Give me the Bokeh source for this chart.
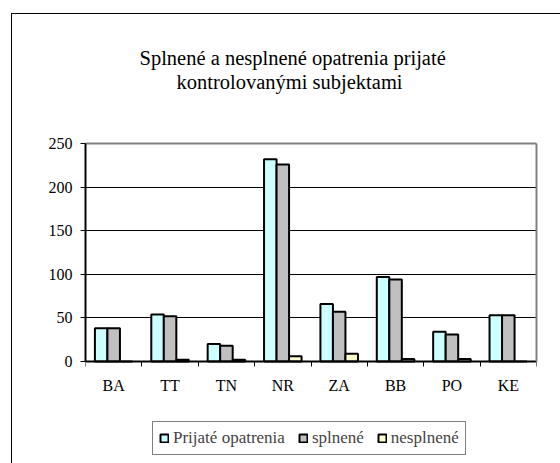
from bokeh.plotting import figure
from bokeh.models import (Range1d, FixedTicker, Title, Legend, LegendItem, ColumnDataSource,
                          InlineStyleSheet, LinearAxis)
from bokeh.transform import dodge
from bokeh.embed import file_html
from bokeh.resources import INLINE

# ---- data ----
categories = ["BA", "TT", "TN", "NR", "ZA", "BB", "PO", "KE"]
prijate = [38, 54, 20, 232, 66, 97, 34, 53]
splnene = [38, 52, 18, 226, 57, 94, 31, 53]
nesplnene = [0, 2, 2, 6, 9, 3, 3, 0]
series_names = ["Prijaté opatrenia", "splnené", "nesplnené"]
y_ticks = [0, 50, 100, 150, 200, 250]
title_lines = ["Splnené a nesplnené opatrenia prijaté", "kontrolovanými subjektami"]

# ---- layout constants (page pixels) ----
W, H = 560, 463
FL, FR, FT, FB = 85, 536, 143, 361   # plot-area edges in page px (value 0 sits at FB)
FONT = "Liberation Serif"
YMAX = 250
NC = len(categories)
ppu = (FB - FT) / YMAX               # pixels per value unit
ymin = -(H - FB) / ppu               # frame continues below the plot area to host the legend

centres = [i + 0.5 for i in range(NC)]
src = ColumnDataSource(dict(pos=centres, a=prijate, b=splnene, c=nesplnene))

p = figure(width=W, height=H, x_range=Range1d(0, NC), y_range=Range1d(ymin, YMAX),
           output_backend="svg", toolbar_location=None,
           min_border_left=FL, min_border_right=W - FR,
           min_border_top=FT, min_border_bottom=0)
p.background_fill_color = "white"
p.border_fill_color = "white"
p.outline_line_color = None

# outer chart frame (left and top edges are inside the picture)
p.stylesheets = [InlineStyleSheet(css=(
    ":host::after{content:'';position:absolute;left:11px;top:13px;right:0;bottom:0;"
    "border-left:1px solid #000;border-top:1px solid #000;pointer-events:none;}"))]

# y axis
ya = p.yaxis[0]
ya.bounds = (0, YMAX)
ya.ticker = FixedTicker(ticks=y_ticks)
ya.axis_line_color = "black"
ya.axis_line_width = 2
ya.major_tick_in = 0
ya.major_tick_out = 5
ya.major_tick_line_color = "black"
ya.minor_tick_line_color = None
ya.major_label_text_font = FONT
ya.major_label_text_font_size = "16px"
ya.major_label_text_color = "black"
ya.major_label_standoff = 8

p.ygrid.ticker = FixedTicker(ticks=y_ticks[1:-1])
p.ygrid.grid_line_color = "black"
p.ygrid.grid_line_width = 1
p.xgrid.visible = False

# x axis at value 0: labels at category centres, ticks at category boundaries
xa = p.xaxis[0]
xa.fixed_location = 0
xa.ticker = FixedTicker(ticks=centres, minor_ticks=list(range(NC + 1)))
xa.major_label_overrides = {c: lab for c, lab in zip(centres, categories)}
xa.axis_line_color = "black"
xa.axis_line_width = 2
xa.major_tick_line_color = None
xa.major_tick_in = 0
xa.major_tick_out = 5
xa.minor_tick_in = 0
xa.minor_tick_out = 5
xa.minor_tick_line_color = "black"
xa.major_label_text_font = FONT
xa.major_label_text_font_size = "16px"
xa.major_label_text_color = "black"
xa.major_label_standoff = 10

# grey top and right edges of the plot area
top_edge = LinearAxis(ticker=FixedTicker(ticks=[]), axis_line_color="#808080", axis_line_width=2,
                      major_tick_line_color=None, minor_tick_line_color=None,
                      major_label_text_font_size="0px")
p.add_layout(top_edge, "above")
right_edge = LinearAxis(ticker=FixedTicker(ticks=[]), bounds=(0, YMAX), axis_line_color="#808080",
                        axis_line_width=2, major_tick_line_color=None, minor_tick_line_color=None,
                        major_label_text_font_size="0px")
p.add_layout(right_edge, "right")

# bars
bw = 0.222
colors = ["#CCFFFF", "#C0C0C0", "#FFFFCC"]
cols = ["a", "b", "c"]
rs = []
for k, (col, colr) in enumerate(zip(cols, colors)):
    r = p.vbar(x=dodge("pos", (k - 1) * bw), top=col, width=bw,
               source=src, fill_color=colr, line_color="black", line_width=2)
    rs.append(r)

# title (two lines, centred a little left of the plot-area centre)
has_standoff = "standoff" in Title.properties()
def title_kw(standoff):
    kw = dict(text_font=FONT, text_font_size="20.5px", text_font_style="normal",
              text_color="black", align="left")
    if has_standoff:
        kw["standoff"] = standoff
    return kw

p.add_layout(Title(text=" ", text_font_size="44px" if has_standoff else "27px",
                   **({"standoff": 0} if has_standoff else {})), "above")
p.add_layout(Title(text=title_lines[1], offset=91, **title_kw(0)), "above")
t1 = title_kw(0)
p.title.text = title_lines[0]
p.title.offset = 54
for k_, v_ in t1.items():
    setattr(p.title, k_, v_)

# legend (inside the frame, below the category labels)
legend = Legend(items=[LegendItem(label=n, renderers=[r]) for n, r in zip(series_names, rs)],
                orientation="horizontal", location=(152 - FL, H - 455),
                label_text_font=FONT, label_text_font_size="17px",
                glyph_width=10, glyph_height=10, label_standoff=4, spacing=13,
                padding=6, margin=0, label_height=17,
                border_line_color="black", border_line_width=1,
                background_fill_color="white", background_fill_alpha=1)
p.add_layout(legend, "center")

open("out.html", "w").write(file_html(p, INLINE))
